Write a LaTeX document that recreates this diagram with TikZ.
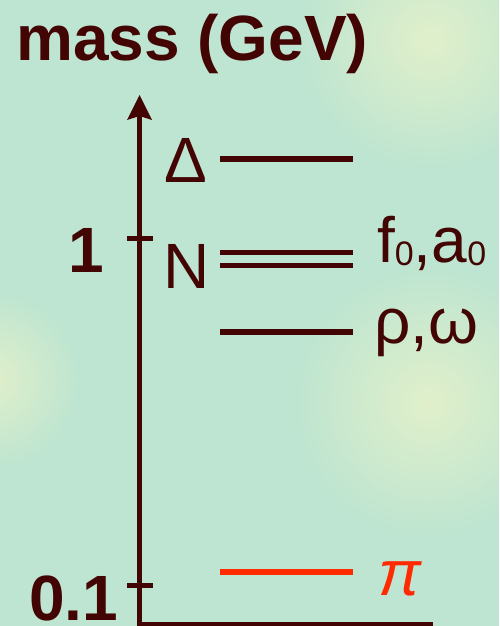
\documentclass[tikz,border=0pt]{standalone}
\usepackage{fontspec}
\setmainfont{Liberation Sans}
\usetikzlibrary{fadings}
\tikzfading[name=glowfade, inner color=transparent!0, outer color=transparent!100]
\definecolor{bg}{HTML}{BEE5D1}
\definecolor{glow}{HTML}{F0F5C8}
\definecolor{ink}{HTML}{430404}
\definecolor{pired}{HTML}{FF2A00}
\newcommand\lowsub[1]{\raisebox{-3pt}{\fontsize{34}{34}\selectfont #1}}
\begin{document}
\begin{tikzpicture}[x=1pt,y=-1pt,
  level/.style={line width=5.5pt, draw=ink},
  axis/.style={line width=5pt, draw=ink},
  lbl/.style={inner sep=0pt, anchor=base west, text=ink, font=\fontsize{64}{64}\selectfont},
  boldlbl/.style={inner sep=0pt, anchor=base west, text=ink, text depth=0pt, font=\fontsize{64}{64}\selectfont\bfseries},
  glowspot/.style={fill=glow, path fading=glowfade, fill opacity=0.7}]
\useasboundingbox (0,0) rectangle (499,626);
\fill[bg] (0,0) rectangle (499,626);
\begin{scope}
\clip (0,0) rectangle (499,626);
\fill[glowspot] (430,40) circle[radius=130pt];
\fill[glowspot] (428,402) circle[radius=135pt];
\fill[glowspot] (-10,380) circle[radius=90pt];
\end{scope}

% labels
\node[boldlbl] (title) at (16,60) {mass (GeV)};
\node[boldlbl] (one) at (68,272) {1};
\node[boldlbl] (tenth) at (29,620) {0.1};
\node[lbl] (delta) at (164,182) {Δ};
\node[lbl] (N) at (163,288) {N};
\node[lbl] (fa) at (377,262) {f\lowsub{0},a\lowsub{0}};
\node[lbl] (rho) at (374,343) {ρ,ω};
\node[lbl, text=pired, font=\fontsize{64}{64}\selectfont\itshape] (pi) at (378,595) {π};

% axes
\coordinate (ybot) at (139.5,626);
\coordinate (ytop) at (139.5,116);
\coordinate (tip) at (139.5,95);
\coordinate (xl) at (137,624);
\coordinate (xr) at (433,624);
\draw[axis] (ybot) -- (ytop);
\draw[axis] (xl) -- (xr);
\fill[ink] (tip) -- (127,120) -- (ytop) -- (152,120) -- cycle;

% ticks
\coordinate (t1a) at (127,238);
\coordinate (t1b) at (153,238);
\coordinate (t2a) at (127,585.5);
\coordinate (t2b) at (153,585.5);
\draw[axis] (t1a) -- (t1b);
\draw[axis] (t2a) -- (t2b);

% levels
\coordinate (dl) at (220,159);   \coordinate (dr) at (353,159);
\coordinate (n1l) at (220,252.5); \coordinate (n1r) at (353,252.5);
\coordinate (n2l) at (220,265.7); \coordinate (n2r) at (353,265.7);
\coordinate (rl) at (220,332);   \coordinate (rr) at (353,332);
\coordinate (pl) at (220,572);   \coordinate (pr) at (353,572);
\draw[level] (dl) -- (dr);
\draw[level] (n1l) -- (n1r);
\draw[level] (n2l) -- (n2r);
\draw[level] (rl) -- (rr);
\draw[level, draw=pired] (pl) -- (pr);
\end{tikzpicture}
\end{document}
